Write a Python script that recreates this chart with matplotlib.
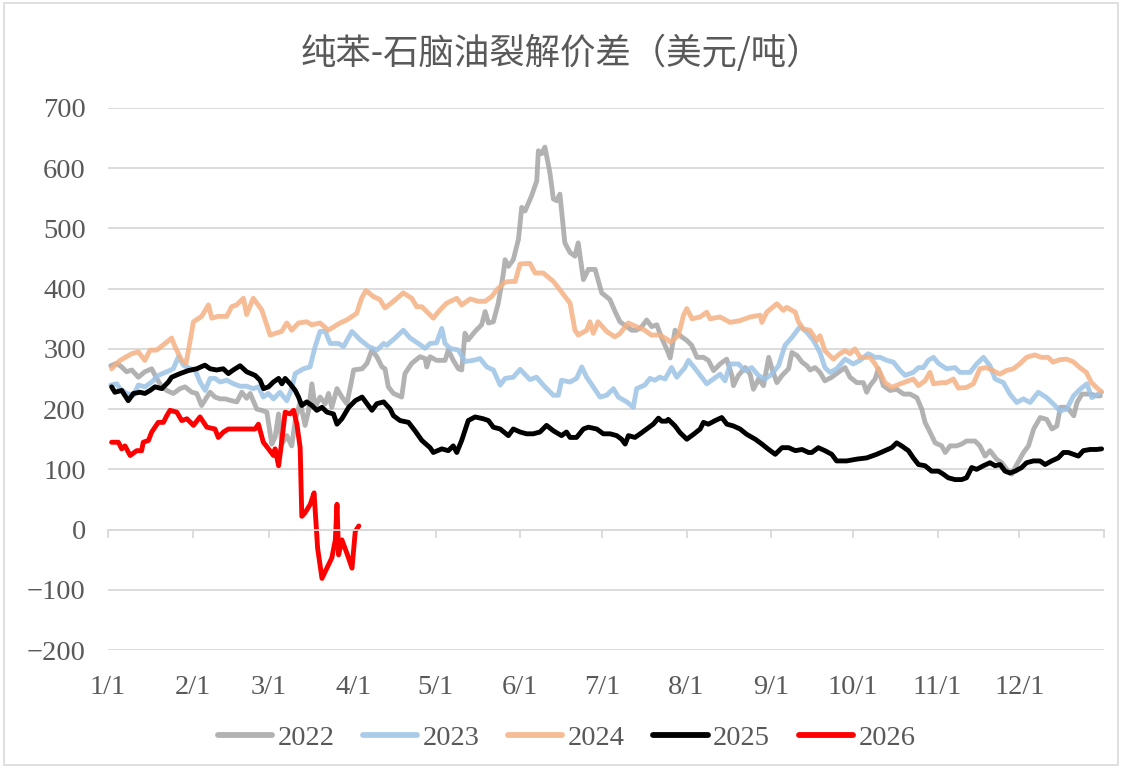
import numpy as np
import matplotlib
matplotlib.use("Agg")
import matplotlib.pyplot as plt
from matplotlib.patches import Rectangle

# ---- data: day of year (0 = 1/1) and spread value (USD/t) ----
d2022 = [1, 3.2, 5, 6.8, 8.7, 11.1, 13.5, 16, 17.8, 19.7, 21.5, 23.9, 26.4, 28.2, 30.7, 32.5, 34.3, 36.2, 37.4,
         39.2, 41.1, 42.9, 45.3, 47.2, 49, 50.8, 52.1, 54.5, 56.3, 58.2, 60, 61.2, 62.5, 63.7, 65.5, 67.3, 68.6,
         70.4, 72.2, 73.5, 74.7, 75.9, 77.7, 79.6, 80.8, 82, 83.9, 85.7, 87.5, 88.8, 90, 93.1, 94.9, 96.7, 98.5,
         100.4, 101.5, 102.7, 104.6, 107.6, 108.8, 111.3, 114.3, 116.2, 116.8, 118, 120.4, 123.5, 124.7, 126.5,
         128.4, 129.6, 130.8, 132, 134.5, 136.9, 138.2, 139.4, 141.2, 143, 144.9, 145.5, 146.7, 148.5, 150.4,
         151.6, 152.8, 155.2, 157.1, 157.7, 158.9, 160.1, 161.9, 163.2, 164.4, 165.6, 167.4, 169.3, 171.1, 172.3,
         174.2, 176, 178.5, 180.9, 183.9, 185.8, 187.6, 190.1, 191.9, 193.7, 195.6, 197.4, 199.2, 201.1, 202.9,
         204.7, 206, 207.8, 209.6, 212.1, 213.9, 215.8, 218.2, 220, 221.9, 224.3, 226.7, 228.6, 229.2, 231, 233.5,
         235.3, 236.5, 238.4, 240.2, 242.1, 243.3, 245.1, 247, 249.4, 250.6, 252.5, 254.3, 256.1, 257.3, 259.1,
         260.9, 262.7, 265.2, 267.6, 270.1, 271.9, 274.4, 276.8, 278, 279.2, 281.1, 282.3, 284.1, 286.6, 289,
         291.5, 293.9, 296.4, 298.2, 299.4, 301.3, 303.1, 305.5, 306.8, 308.6, 311, 312.8, 314.6, 317.7, 319.5,
         321.4, 323.2, 325.6, 327.5, 329.3, 331.2, 333, 335.5, 337.3, 339.2, 341.6, 344, 345.9, 347.7, 349,
         350.8, 352, 353.9, 355.1, 356.9, 360, 362.4, 363.6]
v2022 = [272, 276, 270, 262, 265, 253, 262, 267, 251, 237, 231, 226, 234, 237, 228, 226, 206, 220, 228,
         220, 217, 217, 214, 212, 228, 218, 226, 200, 198, 195, 142, 153, 192, 142, 156, 139, 181,
         212, 173, 198, 242, 203, 220, 209, 226, 203, 234, 220, 209, 237, 265, 267, 276, 298, 287,
         270, 267, 237, 226, 220, 259, 276, 287, 284, 270, 287, 281, 281, 298, 281,
         267, 265, 326, 315, 329, 340, 362, 343, 345, 376, 426, 448, 437, 448, 482,
         535, 529, 554, 579, 629, 624, 635, 593, 549, 546, 557, 476, 460, 454, 476,
         415, 432, 432, 393, 382, 362, 345, 337, 331, 331, 337, 348, 337, 340, 318,
         300, 285, 331, 322, 314, 306, 286, 286, 281, 264, 275, 283, 256, 239, 256, 269,
         258, 233, 250, 239, 286, 267, 244, 256, 267, 294, 289, 278, 272, 265, 269,
         261, 247, 253, 261, 269, 253, 244, 244, 228, 239, 250, 267, 239, 231, 233,
         225, 225, 219, 200, 178, 161, 144, 139, 128, 139, 139, 142, 147, 147, 139,
         122, 131, 117, 111, 100, 92, 108, 128, 139, 167, 186, 183, 167, 172, 203,
         203, 200, 189, 211, 225, 225, 222, 222]

d2023 = [1, 3.2, 4.4, 6.8, 9.3, 11.1, 13.5, 16, 18.4, 21.5, 23.9, 25.8, 27.6, 30.1, 31.9, 33.7, 35.6, 37.4,
         39.2, 41.1, 43.5, 46, 48.4, 50.8, 53.2, 55.1, 56.9, 58.7, 60.6, 63, 65.5, 67.3, 68.6, 71.6, 74, 75.9,
         77.7, 79.6, 81.4, 84.5, 86.3, 89.4, 92.4, 95.5, 98.5, 101, 102.1, 105.2, 108.2, 110.7, 113.7, 116.2,
         118, 120.4, 122.3, 123.5, 125.3, 128.4, 130.8, 133.9, 136.3, 138.8, 141.2, 143.7, 145.5, 148.5, 151,
         154.6, 157, 160.1, 163.2, 165, 166.2, 169.3, 171.7, 173.6, 175.4, 177.8, 180.3, 182.7, 185.2, 187,
         190.1, 192.5, 193.7, 196.7, 198.6, 200.4, 202.2, 204.1, 206.5, 208.4, 211.4, 212.7, 215.7, 219.4,
         221.8, 224.3, 226.1, 228, 231, 233.4, 235.9, 238.3, 240.8, 243.2, 245.7, 248.1, 250.6, 253.6, 256,
         258.5, 260.9, 262.7, 264.6, 267, 270.1, 273.1, 275.6, 278.6, 281.1, 282.9, 285.4, 287.8, 290.3, 292.1,
         295.1, 297, 298.8, 300.6, 302.5, 304.3, 307.3, 310.4, 312.2, 315.9, 318.3, 320.8, 323.2, 325.1, 328.1,
         330.5, 333, 335.4, 337.9, 340.9, 344, 347, 348.9, 351.3, 353.8, 356.2, 358.7, 360.5, 362.9, 364.1]
v2023 = [240, 242, 234, 226, 223, 240, 237, 245, 256, 262, 267, 287, 273, 267, 265, 245, 231, 251,
         251, 245, 248, 242, 238, 238, 234, 237, 220, 226, 217, 228, 214, 234, 259, 267, 270, 304,
         329, 329, 309, 309, 304, 329, 315, 304, 298, 309, 306, 318, 331, 318, 309, 301,
         309, 310, 334, 309, 301, 298, 279, 281, 284, 270, 265, 240, 251, 253, 266,
         249, 253, 237, 223, 223, 248, 245, 251, 270, 253, 237, 220, 223, 234, 220,
         212, 203, 234, 240, 251, 248, 253, 250, 269, 253, 269, 281, 264, 242,
         250, 258, 247, 275, 275, 264, 269, 256, 250, 258, 272, 306, 319, 337, 328,
         314, 294, 269, 261, 267, 283, 275, 281, 292, 286, 286, 281, 278, 264, 256,
         261, 269, 269, 281, 286, 276, 267, 269, 261, 261, 275, 286, 272, 250, 244,
         225, 211, 217, 211, 228, 219, 206, 197, 200, 222, 233, 242, 219, 225, 228]

d2024 = [1.3, 4.4, 8.7, 11.1, 13.5, 15.4, 17.8, 20.9, 23.3, 24.5, 27, 28.6, 31.3, 34.3, 36.8, 38, 40.4, 43.5,
         45.3, 47.1, 49.6, 50.8, 53.2, 56.3, 59.4, 63.6, 65.5, 67.3, 69.8, 72.8, 74.6, 77.7, 80.7, 85, 87.5, 91.1,
         92.9, 94.5, 97.2, 99.6, 101.5, 104.6, 108.2, 111.3, 113.1, 115, 119.2, 121.1, 124.1, 127.8, 129.6, 132.7,
         135.7, 138.2, 140.6, 142.4, 145.5, 147.9, 149.2, 151, 154.6, 156.5, 159.5, 163.2, 165.6, 169.3, 171.1,
         172.3, 175.4, 176.6, 177.8, 179.6, 182.7, 185.7, 187.5, 190.6, 193.6, 196.7, 199.1, 202.2, 205.2, 206,
         209, 210.9, 212.1, 214, 217, 219.4, 220.6, 224.3, 228, 231.6, 235.3, 239, 239.6, 241.4, 245.1, 247.5,
         248.7, 251.8, 253, 254.8, 257.2, 259.7, 260.9, 262.7, 265.8, 268.2, 270.1, 271.9, 273.7, 275.6, 277.4,
         279.2, 281.1, 282.9, 284.7, 287.2, 290.3, 293.3, 295.1, 297, 299.4, 301.2, 302.5, 305.5, 307.3, 309.8,
         311.6, 314.6, 317.1, 319.5, 321.9, 324.3, 326.8, 329.2, 331.7, 334.1, 336.6, 339.6, 342, 344.5, 346.3,
         348.7, 351.2, 353.6, 356.1, 358.5, 360.4, 362.2, 364]
v2024 = [267, 281, 292, 295, 281, 298, 298, 309, 318, 304, 281, 276, 345, 354, 373, 351, 354, 354,
         370, 373, 384, 357, 384, 365, 323, 329, 343, 331, 343, 345, 340, 343, 331, 343, 348, 359,
         384, 397, 387, 382, 368, 379, 393, 384, 370, 370, 351, 362, 376, 384, 373, 383,
         379, 379, 387, 398, 411, 412, 412, 441, 442, 426, 426, 412, 398, 376, 331,
         323, 331, 345, 326, 345, 329, 320, 325, 343, 337, 331, 323, 323, 315, 311,
         322, 356, 367, 350, 353, 361, 350, 353, 344, 347, 353, 356, 344, 361, 375, 364,
         369, 361, 345, 333, 331, 314, 322, 297, 283, 292, 297, 292, 300, 286, 286,
         286, 275, 261, 244, 236, 242, 247, 250, 239, 247, 261, 242, 244, 244, 250,
         235, 236, 242, 267, 269, 264, 258, 264, 267, 275, 286, 290, 286, 286, 278,
         282, 283, 279, 269, 261, 244, 236, 229]

d2025 = [1.3, 2.5, 5, 7.4, 9.3, 11.7, 13.5, 15.4, 17.2, 19.7, 22.1, 23.3, 26.4, 29.4, 32.5, 35.5, 37.4, 39.8,
         42.2, 44.1, 45.9, 48.4, 50.8, 53.9, 55.7, 57, 58.8, 60.6, 62.5, 63.7, 64.9, 66.7, 68.6, 69.8, 71, 72.8,
         74.7, 76.5, 78.4, 80.2, 82.6, 83.9, 85.7, 88.2, 90.6, 93.1, 94.9, 96.7, 98.5, 101, 103.4, 104.6, 107,
         110.1, 112.5, 115, 118, 119.2, 122.3, 124.7, 126.5, 127.8, 129.6, 132, 134.5, 137.5, 139.4, 141.2, 143.7,
         146.7, 148.5, 151, 153.4, 155.8, 158.3, 160.7, 163.2, 166.2, 168, 169.3, 171.7, 174.2, 176, 179.1, 181.5,
         184, 186.4, 188.2, 189.5, 190.7, 193.1, 195, 197.4, 199.8, 201.7, 202.9, 204.7, 205.3, 207.8, 209.6,
         212.1, 214.5, 217, 218.2, 220, 222.5, 224.9, 226.8, 229.2, 231.6, 234.1, 237.2, 239.6, 242.1, 244.5,
         247, 249.4, 251.9, 254.3, 256.7, 257.9, 260.3, 262.7, 265.2, 267, 270.7, 274.4, 278, 281.7, 284.7,
         287.2, 289, 290.8, 293.3, 295.1, 297, 299.4, 301.8, 304.3, 306.1, 307.9, 310.4, 312.8, 314.6, 316.5,
         318.3, 320.8, 323.2, 325.1, 326.9, 328.7, 330.5, 332.4, 334.8, 336.6, 339.1, 341.5, 343.4, 345.8, 348.2,
         350.1, 351.9, 353.8, 355.6, 357.4, 359.9, 362.3, 364.1]
v2025 = [237, 228, 231, 214, 226, 228, 226, 231, 237, 234, 245, 253, 259, 264, 267, 273, 267, 265,
         267, 259, 265, 272, 262, 256, 248, 234, 237, 245, 251, 242, 251, 242, 231, 220, 206, 212,
         206, 198, 203, 195, 192, 175, 184, 203, 214, 220, 209, 198, 209, 212, 200, 189, 181,
         178, 164, 148, 136, 128, 134, 131, 139, 128, 148, 181, 187, 184, 181, 170, 167,
         156, 167, 162, 159, 159, 162, 173, 164, 156, 162, 153, 153, 167, 170, 167, 159,
         159, 156, 150, 142, 156, 153, 159, 167, 175, 185, 180, 180, 183, 172, 161,
         150, 158, 167, 178, 175, 181, 186, 175, 172, 167, 158, 150, 142, 133, 125,
         136, 136, 131, 133, 128, 128, 136, 131, 125, 114, 114, 117, 119, 125, 131,
         136, 144, 139, 131, 119, 108, 106, 97, 97, 92, 86, 83, 83, 86, 103,
         100, 106, 111, 106, 108, 97, 94, 97, 103, 111, 114, 114, 108, 114, 119,
         128, 128, 125, 122, 131, 133, 133, 134]

d2026 = [1.3, 3.8, 5, 6.2, 8.1, 10.5, 12.3, 12.9, 14.8, 16, 18.4, 20.3, 21.5, 22.7, 25.2, 27, 28.9, 31.3, 33.7,
         36.2, 39.2, 40.4, 42.3, 44.1, 53.9, 55.1, 56.9, 58.8, 60.6, 61.2, 62.5, 63.7, 64.9, 66.7, 68, 69.2, 70.4,
         71, 72.2, 74.1, 75.5, 76.8, 78.4, 80.2, 82, 83.3, 83.9, 84.5, 85.7, 87.5, 89.4, 90.6, 91.9]
v2026 = [145, 145, 134, 139, 123, 131, 131, 145, 148, 162, 178, 178, 189, 198, 195, 181, 184, 173, 187,
         170, 167, 153, 162, 167, 167, 175, 145, 134, 123, 134, 106, 148, 195, 192, 198, 175, 136,
         22, 28, 42, 61, -31, -81, -64, -47, -17, 42, -42, -17, -39, -64, -3, 6]

month_days = [0, 31, 59, 90, 120, 151, 181, 212, 243, 273, 304, 334]
month_labels = ['1/1', '2/1', '3/1', '4/1', '5/1', '6/1', '7/1', '8/1', '9/1', '10/1', '11/1', '12/1']
year_end = 365

series = [
    ('2022', d2022, v2022, '#A5A5A5', 0.85),
    ('2023', d2023, v2023, '#9DC3E6', 0.85),
    ('2024', d2024, v2024, '#F4B183', 0.85),
    ('2025', d2025, v2025, '#000000', 1.0),
    ('2026', d2026, v2026, '#FF0000', 1.0),
]

txt_color = '#595959'
grid_color = '#D9D9D9'

fig = plt.figure(figsize=(11.22, 7.68), dpi=100)
ax = fig.add_axes([0.0963, 0.1536, 0.8877, 0.7058])

for name, d, v, c, a in series:
    ax.plot(d, v, color=c, alpha=a, lw=3.5, label=name, solid_joinstyle='round', solid_capstyle='round')

ax.set_xlim(0, year_end)
ax.set_ylim(-200, 700)
ax.set_yticks(np.arange(-200, 701, 100))
ax.yaxis.grid(True, color=grid_color, lw=1.3)
ax.set_axisbelow(True)
for s in ['top', 'right', 'left']:
    ax.spines[s].set_visible(False)
ax.spines['bottom'].set_position(('data', 0))
ax.spines['bottom'].set_color(grid_color)
ax.spines['bottom'].set_linewidth(1.3)
ax.set_xticks(month_days + [year_end])
ax.tick_params(axis='x', direction='out', length=6, width=1.3, color=grid_color, labelbottom=False)
ax.tick_params(axis='y', length=0, pad=16, labelsize=20.5, labelcolor=txt_color)
for lb in ax.get_yticklabels():
    lb.set_fontfamily('Liberation Serif')

# month labels below the plot area
sec = ax.secondary_xaxis(0)
sec.set_xticks(month_days, month_labels)
sec.tick_params(length=0, pad=18, labelsize=20.5, labelcolor=txt_color)
sec.spines['bottom'].set_visible(False)
for lb in sec.get_xticklabels():
    lb.set_fontfamily('Liberation Serif')

fig.text(0.5, 0.931, '纯苯-石脑油裂解价差（美元/吨）', ha='center', va='center',
         fontsize=25.5, color=txt_color, family=['Noto Sans CJK SC', 'DejaVu Sans'])

leg = fig.legend(loc='center', bbox_to_anchor=(0.505, 0.039), ncol=5, frameon=False,
                 handlelength=1.9, handletextpad=0.2, columnspacing=1.0,
                 prop={'family': 'Liberation Serif', 'size': 20.5})
for t in leg.get_texts():
    t.set_color(txt_color)
for h in leg.legend_handles:
    h.set_linewidth(4.2)

fig.patches.append(Rectangle((0.004, 0.004), 0.992, 0.992, transform=fig.transFigure,
                             fill=False, edgecolor=grid_color, lw=1.2))

fig.savefig('out.png', dpi=100)
